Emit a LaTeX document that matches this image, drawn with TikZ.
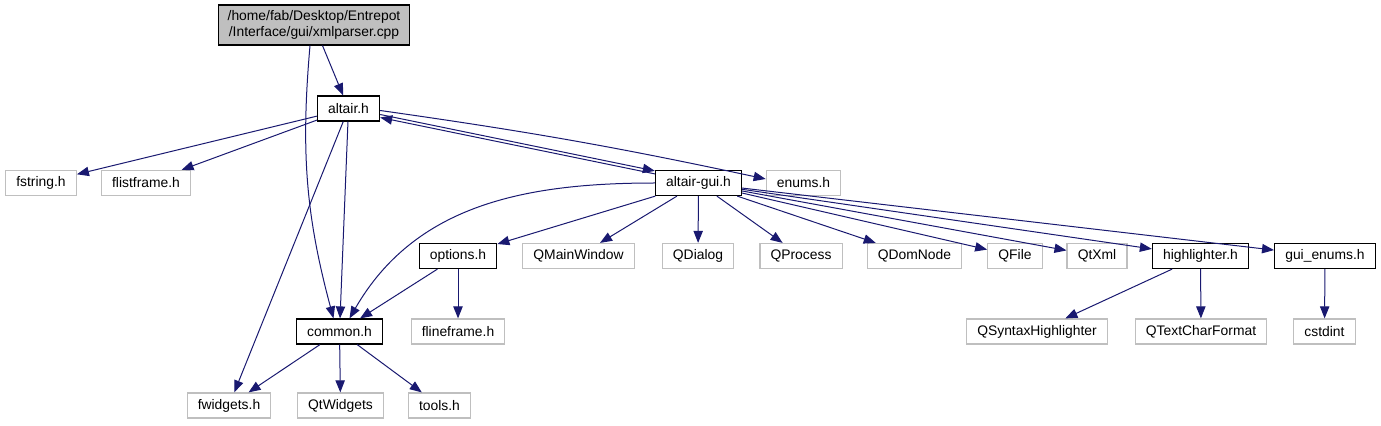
\documentclass[tikz,border=0pt]{standalone}
\usepackage{fontspec}
\setmainfont{Liberation Sans}
\usetikzlibrary{arrows.meta,calc}

\definecolor{edgeblue}{HTML}{191970}
\definecolor{boxgray}{HTML}{BFBFBF}

\begin{document}
\begin{tikzpicture}[
    x=0.75pt, y=0.75pt,
    every node/.style={font=\fontsize{10.4}{12}\selectfont},
    file/.style={rectangle, draw=black, line width=0.9pt, inner xsep=8pt,
                 inner ysep=0pt, minimum height=18.75pt},
    extfile/.style={file, draw=boxgray},
    rootfile/.style={file, fill=boxgray, align=center, minimum height=30pt,
                     inner xsep=7pt},
    edge/.style={-{Triangle[length=9pt,width=7pt]}, edgeblue, line width=0.75pt}
]
\useasboundingbox (0,0) rectangle (1381,425);

% Source file
\node[rootfile] (root) at (314,400) {/home/fab/Desktop/Entrepot\\/Interface/gui/xmlparser.cpp};

% Headers
\node[file] (altair) at (348.5,316.5) {altair.h};
\node[extfile] (fstring) at (41,242) {fstring.h};
\node[extfile] (flistframe) at (146,242) {flistframe.h};
\node[file] (gui) at (698.5,242) {altair-gui.h};
\node[extfile] (enums) at (803.5,242) {enums.h};

\node[file] (options) at (458,169) {options.h};
\node[extfile] (qmainwindow) at (578.5,169) {QMainWindow};
\node[extfile] (qdialog) at (698,169) {QDialog};
\node[extfile] (qprocess) at (801,169) {QProcess};
\node[extfile] (qdomnode) at (914.5,169) {QDomNode};
\node[extfile] (qfile) at (1015,169) {QFile};
\node[extfile] (qtxml) at (1097,169) {QtXml};
\node[file] (highlighter) at (1200.5,169) {highlighter.h};
\node[file] (guienums) at (1325,169) {gui\_enums.h};

\node[file] (common) at (339.5,93.5) {common.h};
\node[extfile] (flineframe) at (458,93.5) {flineframe.h};
\node[extfile] (qsyntax) at (1037,93.5) {QSyntaxHighlighter};
\node[extfile] (qtextchar) at (1201,93.5) {QTextCharFormat};
\node[extfile] (cstdint) at (1324.5,93.5) {cstdint};

\node[extfile] (fwidgets) at (229,19.5) {fwidgets.h};
\node[extfile] (qtwidgets) at (340.5,19.5) {QtWidgets};
\node[extfile] (tools) at (439.5,19.5) {tools.h};

% Includes
\draw[edge] (root) -- (altair);
\draw[edge] ($(root.south)+(-4,0)$) to[out=-95,in=105] ($(common.north)+(-6,0)$);

\draw[edge] (altair) -- (fstring);
\draw[edge] (altair) -- (flistframe);
\draw[edge] (altair) -- (fwidgets);
\draw[edge] (altair) -- (common);
\draw[edge] ($(altair.east)+(0,-6)$) -- ($(gui.north west)+(0,-1)$);
\draw[edge] ($(gui.north west)+(0,-4)$) -- ($(altair.east)+(0,-9)$);
\draw[edge] ($(altair.east)+(0,-2)$) to[bend left=2] ($(enums.west)+(0,4)$);

\draw[edge] (gui.west) to[out=180,in=60] ($(common.north)+(10,0)$);
\draw[edge] (gui) -- (options);
\draw[edge] (gui) -- (qmainwindow);
\draw[edge] (gui) -- (qdialog);
\draw[edge] (gui) -- (qprocess);
\draw[edge] (gui) -- (qdomnode);
\draw[edge] (gui) -- (qfile);
\draw[edge] (gui) -- (qtxml);
\draw[edge] (gui) -- (highlighter);
\draw[edge] (gui) -- (guienums);

\draw[edge] (options) -- (common);
\draw[edge] (options) -- (flineframe);

\draw[edge] (common) -- (fwidgets);
\draw[edge] (common) -- (qtwidgets);
\draw[edge] (common) -- (tools);

\draw[edge] (highlighter) -- (qsyntax);
\draw[edge] (highlighter) -- (qtextchar);
\draw[edge] (guienums) -- (cstdint);

\end{tikzpicture}
\end{document}
